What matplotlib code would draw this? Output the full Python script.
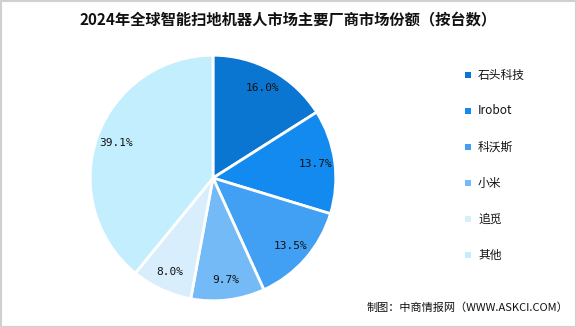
import matplotlib.pyplot as plt
from matplotlib.patches import Rectangle

plt.rcParams['font.family'] = ['Noto Sans CJK SC', 'DejaVu Sans']

companies = ["石头科技", "Irobot", "科沃斯", "小米", "追觅", "其他"]
shares = [16.0, 13.7, 13.5, 9.7, 8.0, 39.1]
colors = ["#0B76D1", "#138AEF", "#41A0F3", "#73BAF6", "#D9EEFC", "#C3EEFD"]

fig = plt.figure(figsize=(5.76, 3.27), dpi=100)
fig.patch.set_facecolor("white")

# pie centre ~ (213, 178) px, radius ~124 px
ax = fig.add_axes([(213 - 124) / 576, 1 - (178 + 124) / 327, 248 / 576, 248 / 327])
wedges, texts, autotexts = ax.pie(
    shares, colors=colors, startangle=90, counterclock=False,
    autopct="%1.1f%%", pctdistance=0.84,
    wedgeprops=dict(edgecolor="white", linewidth=2),
    textprops=dict(fontsize=8, color="#111111", family="DejaVu Sans Mono"))
ax.set_xlim(-1.01, 1.01)
ax.set_ylim(-1.01, 1.01)
ax.set_aspect("equal")

fig.text(0.5, 1 - 19 / 327, "2024年全球智能扫地机器人市场主要厂商市场份额（按台数）",
         ha="center", va="center", fontsize=11, fontweight="bold", color="#111111")

# legend
for i, (name, c) in enumerate(zip(companies, colors)):
    y = 1 - (75 + 36 * i) / 327
    fig.patches.append(Rectangle((465 / 576, y - 3 / 327), 6 / 576, 6 / 327,
                                 transform=fig.transFigure, facecolor=c, edgecolor="none"))
    fig.text(478 / 576, y, name, ha="left", va="center", fontsize=8.5, color="#111111")

fig.text(568 / 576, 1 - 308 / 327, "制图：中商情报网（WWW.ASKCI.COM）",
         ha="right", va="center", fontsize=8, color="#111111")

# light frame
fig.patches.append(Rectangle((0.5 / 576, 0.5 / 327), 575 / 576, 326 / 327,
                             transform=fig.transFigure, facecolor="none",
                             edgecolor="#D0D0D0", linewidth=1.5))

fig.savefig("out.png", dpi=100)
